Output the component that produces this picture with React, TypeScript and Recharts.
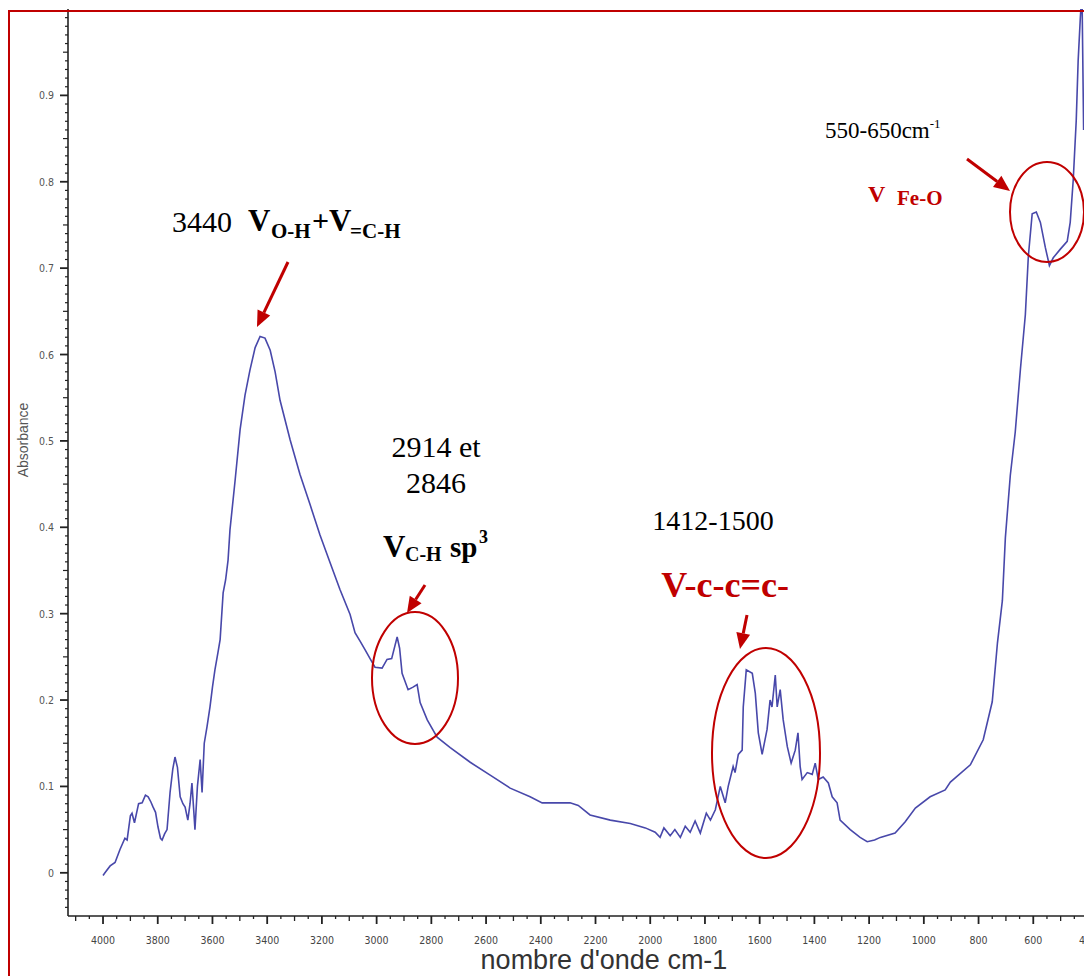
import React from "react";
import { LineChart, Line, XAxis, YAxis } from "recharts";

// FTIR spectrum: wavenumber (cm-1) and absorbance
const wavenumbers = [
  4000, 3993, 3974, 3956, 3938, 3920, 3912, 3900, 3894, 3885, 3870, 3857, 3845, 3835, 3825, 3817,
  3808, 3799, 3790, 3784, 3775, 3766, 3755, 3745, 3737, 3728, 3718, 3708, 3700, 3690, 3682, 3675,
  3668, 3664, 3655, 3645, 3638, 3630, 3620, 3609, 3600, 3591, 3580, 3572, 3561, 3552, 3543, 3536,
  3517, 3499, 3481, 3463, 3444, 3426, 3408, 3389, 3371, 3353, 3316, 3280, 3243, 3207, 3170, 3134,
  3097, 3079, 3060, 3042, 3024, 3006, 2980, 2962, 2945, 2925, 2916, 2907, 2885, 2867, 2852, 2841,
  2815, 2779, 2731, 2658, 2585, 2512, 2439, 2395, 2293, 2263, 2220, 2146, 2073, 2018, 1982, 1964,
  1950, 1927, 1910, 1890, 1872, 1854, 1836, 1817, 1795, 1780, 1762, 1744, 1726, 1715, 1697, 1690,
  1678, 1664, 1660, 1649, 1627, 1616, 1605, 1591, 1573, 1562, 1555, 1543, 1536, 1525, 1514, 1499,
  1485, 1470, 1460, 1452, 1445, 1426, 1408, 1397, 1386, 1368, 1349, 1335, 1317, 1306, 1269, 1233,
  1207, 1180, 1159, 1105, 1068, 1031, 977, 922, 903, 830, 783, 750, 731, 713, 702, 684,
  666, 647, 629, 618, 604, 589, 574, 556, 541, 527, 501, 476, 465, 454, 443, 436,
  428, 422, 416,
];

const absorbance = [
  -0.003, 0.0, 0.008, 0.012, 0.027, 0.04, 0.038, 0.066, 0.069, 0.058, 0.08, 0.081, 0.09, 0.088, 0.082, 0.076,
  0.07, 0.053, 0.04, 0.038, 0.045, 0.05, 0.093, 0.12, 0.134, 0.122, 0.088, 0.08, 0.076, 0.061, 0.08, 0.104,
  0.07, 0.05, 0.1, 0.131, 0.093, 0.15, 0.169, 0.192, 0.215, 0.235, 0.255, 0.27, 0.324, 0.339, 0.362, 0.397,
  0.455, 0.513, 0.553, 0.582, 0.608, 0.621, 0.619, 0.605, 0.58, 0.547, 0.501, 0.461, 0.426, 0.391, 0.359, 0.328,
  0.299, 0.278, 0.268, 0.258, 0.248, 0.238, 0.237, 0.247, 0.248, 0.273, 0.26, 0.231, 0.212, 0.215, 0.218, 0.197,
  0.177, 0.157, 0.145, 0.128, 0.113, 0.098, 0.088, 0.081, 0.081, 0.078, 0.067, 0.061, 0.057, 0.052, 0.047, 0.041,
  0.052, 0.043, 0.05, 0.041, 0.054, 0.047, 0.06, 0.046, 0.069, 0.061, 0.073, 0.1, 0.081, 0.1, 0.123, 0.116,
  0.137, 0.142, 0.192, 0.235, 0.231, 0.208, 0.162, 0.137, 0.166, 0.2, 0.192, 0.229, 0.192, 0.212, 0.177, 0.146,
  0.127, 0.142, 0.162, 0.123, 0.108, 0.116, 0.114, 0.127, 0.108, 0.111, 0.104, 0.088, 0.081, 0.061, 0.05, 0.041,
  0.036, 0.038, 0.041, 0.046, 0.059, 0.075, 0.088, 0.096, 0.105, 0.125, 0.154, 0.198, 0.266, 0.315, 0.388, 0.46,
  0.51, 0.583, 0.646, 0.714, 0.763, 0.765, 0.753, 0.724, 0.703, 0.712, 0.722, 0.731, 0.753, 0.802, 0.871, 0.94,
  0.99, 1.02, 0.86,
];

const xMajorTicks = [4000, 3800, 3600, 3400, 3200, 3000, 2800, 2600, 2400, 2200, 2000, 1800, 1600, 1400, 1200, 1000, 800, 600, 400];
const yMajorTicks = [0, 0.1, 0.2, 0.3, 0.4, 0.5, 0.6, 0.7, 0.8, 0.9];

const spectrum = wavenumbers.map((wn, i) => ({ wn, a: absorbance[i] }));

// minor tick marks: every 50 cm-1 and every 0.01 absorbance
const xTicks: number[] = [];
for (let v = 4100; v >= 400; v -= 50) xTicks.push(v);
const yTicks: number[] = [];
for (let k = -4; k <= 99; k++) yTicks.push(k / 100);

const RED = "#c00000";
const serif = "'Liberation Serif', 'Times New Roman', serif";
const narrow = "'Liberation Sans Narrow', 'DejaVu Sans Condensed', 'Liberation Sans', Arial, sans-serif";

const XTick = (props: any) => {
  const { x, y, payload } = props;
  const v = payload.value;
  const major = xMajorTicks.includes(v);
  const mid = !major && v % 100 === 0;
  const len = major ? 8 : mid ? 5 : 3;
  return (
    <g>
      <line x1={x} x2={x} y1={y} y2={y + len} stroke="#222" strokeWidth={major ? 1.8 : 1.3} />
      {major && (
        <text x={x} y={y + 28} textAnchor="middle" fontSize={10.5} fontFamily={narrow} fill="#444">
          {v}
        </text>
      )}
    </g>
  );
};

const YTick = (props: any) => {
  const { x, y, payload } = props;
  const k = Math.round(payload.value * 100);
  const major = k % 10 === 0;
  const mid = !major && k % 5 === 0;
  const len = major ? 8 : mid ? 5 : 3;
  const label = yMajorTicks.find((t) => Math.round(t * 100) === k);
  return (
    <g>
      <line x1={x - len} x2={x} y1={y} y2={y} stroke="#222" strokeWidth={major ? 1.8 : 1.2} />
      {label !== undefined && (
        <text x={x - 14} y={y + 4} textAnchor="end" fontSize={10.5} fontFamily={narrow} fill="#555">
          {label === 0 ? "0" : label.toFixed(1)}
        </text>
      )}
    </g>
  );
};

const Arrow = ({ x1, y1, x2, y2 }: { x1: number; y1: number; x2: number; y2: number }) => {
  const ang = Math.atan2(y2 - y1, x2 - x1);
  const hl = 16;
  const hw = 7;
  const bx = x2 - hl * Math.cos(ang);
  const by = y2 - hl * Math.sin(ang);
  const px = -Math.sin(ang) * hw;
  const py = Math.cos(ang) * hw;
  return (
    <g>
      <line x1={x1} y1={y1} x2={bx} y2={by} stroke={RED} strokeWidth={3} />
      <polygon points={`${x2},${y2} ${bx + px},${by + py} ${bx - px},${by - py}`} fill={RED} />
    </g>
  );
};

export default function App() {
  return (
    <div
      style={{
        position: "fixed",
        left: 0,
        top: 0,
        width: 1084,
        height: 976,
        overflow: "hidden",
        background: "#fff",
      }}
    >
      <div style={{ position: "absolute", left: 0, top: 0 }}>
        <LineChart width={1090} height={976} data={spectrum} margin={{ top: 9, right: 2, left: 0, bottom: 0 }}>
          <XAxis
            dataKey="wn"
            type="number"
            domain={[400, 4128]}
            reversed
            allowDataOverflow
            ticks={xTicks}
            interval={0}
            tickSize={0}
            tickMargin={0}
            tickLine={false}
            tick={<XTick />}
            height={60}
            axisLine={{ stroke: "#222", strokeWidth: 1.6 }}
          />
          <YAxis
            type="number"
            domain={[-0.05, 1.0]}
            allowDataOverflow
            ticks={yTicks}
            interval={0}
            tickSize={0}
            tickMargin={0}
            tickLine={false}
            tick={<YTick />}
            width={68}
            axisLine={{ stroke: "#222", strokeWidth: 1.6 }}
          />
          <Line
            dataKey="a"
            type="linear"
            dot={false}
            stroke="#4848aa"
            strokeWidth={1.6}
            isAnimationActive={false}
          />
        </LineChart>
      </div>

      <svg width={1084} height={976} style={{ position: "absolute", left: 0, top: 0, pointerEvents: "none" }}>
        {/* axis titles */}
        <text
          x={24}
          y={440}
          transform="rotate(-90 24 440)"
          textAnchor="middle"
          dominantBaseline="middle"
          fontSize={14}
          fontFamily="'Liberation Sans', Arial, sans-serif"
          fill="#555"
        >
          Absorbance
        </text>
        <text x={604} y={969} textAnchor="middle" fontSize={27} fontFamily="'Liberation Sans', Arial, sans-serif" fill="#333">
          nombre d'onde cm-1
        </text>

        {/* 3440 O-H */}
        <text x={172} y={232} fontSize={30} fontFamily={serif} fill="#000">3440</text>
        <text x={248} y={231} fontSize={31} fontWeight="bold" fontFamily={serif} fill="#000">V</text>
        <text x={271} y={238} fontSize={21} fontWeight="bold" fontFamily={serif} fill="#000">O-H</text>
        <text x={312} y={231} fontSize={30} fontWeight="bold" fontFamily={serif} fill="#000">+</text>
        <text x={329} y={231} fontSize={31} fontWeight="bold" fontFamily={serif} fill="#000">V</text>
        <text x={350} y={238} fontSize={21} fontWeight="bold" fontFamily={serif} fill="#000">=C-H</text>
        <Arrow x1={288} y1={262} x2={257} y2={327} />

        {/* 2914 / 2846 C-H */}
        <text x={436} y={457} textAnchor="middle" fontSize={30} fontFamily={serif} fill="#000">2914 et</text>
        <text x={436} y={493} textAnchor="middle" fontSize={30} fontFamily={serif} fill="#000">2846</text>
        <text x={383} y={557} fontSize={31} fontWeight="bold" fontFamily={serif} fill="#000">V</text>
        <text x={405} y={561} fontSize={20} fontWeight="bold" fontFamily={serif} fill="#000">C-H</text>
        <text x={450} y={557} fontSize={29} fontWeight="bold" fontFamily={serif} fill="#000">sp</text>
        <text x={479} y={543} fontSize={18} fontWeight="bold" fontFamily={serif} fill="#000">3</text>
        <Arrow x1={425} y1={585} x2={407} y2={613} />
        <ellipse cx={415} cy={678} rx={43} ry={66} fill="none" stroke={RED} strokeWidth={2} />

        {/* 1412-1500 */}
        <text x={713} y={530} textAnchor="middle" fontSize={28} fontFamily={serif} fill="#000">1412-1500</text>
        <text x={725} y={597} textAnchor="middle" fontSize={36} fontWeight="bold" fontFamily={serif} fill={RED}>
          V-c-c=c-
        </text>
        <Arrow x1={747} y1={615} x2={740} y2={649} />
        <ellipse cx={766} cy={753} rx={54} ry={105} fill="none" stroke={RED} strokeWidth={2} />

        {/* Fe-O */}
        <text x={825} y={138} fontSize={23} fontFamily={serif} fill="#000">
          550-650cm
          <tspan fontSize={13} dy={-10}>-1</tspan>
        </text>
        <text x={868} y={202} fontSize={24} fontWeight="bold" fontFamily={serif} fill={RED}>V</text>
        <text x={897} y={205} fontSize={21} fontWeight="bold" fontFamily={serif} fill={RED}>Fe-O</text>
        <Arrow x1={967} y1={159} x2={1010} y2={191} />
        <ellipse cx={1047} cy={212} rx={37} ry={50} fill="none" stroke={RED} strokeWidth={2} />
      </svg>

      {/* red frame, right and bottom sides fall outside the picture */}
      <div
        style={{
          position: "absolute",
          left: 8,
          top: 10,
          width: 1200,
          height: 1100,
          border: `2px solid ${RED}`,
          pointerEvents: "none",
        }}
      />
    </div>
  );
}
